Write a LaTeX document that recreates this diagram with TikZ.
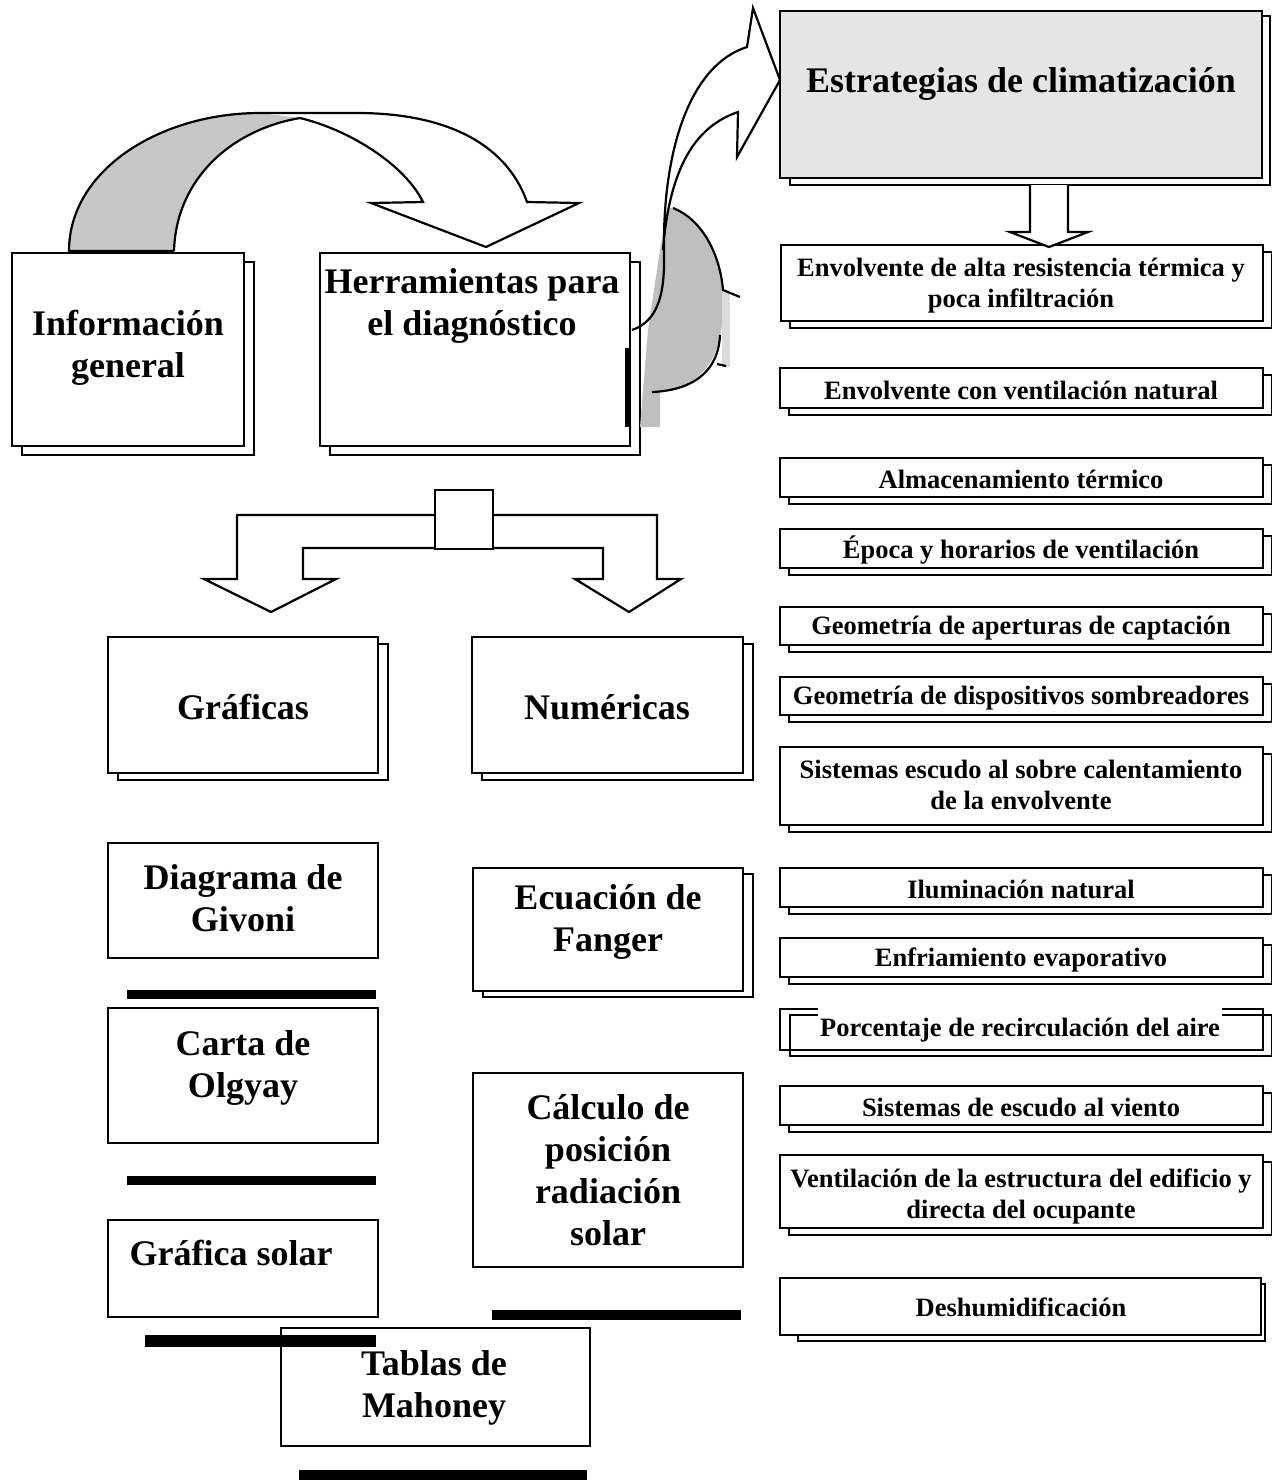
\documentclass[tikz,border=0pt]{standalone}
\usepackage{fontspec}
\setmainfont{Liberation Serif}
\usetikzlibrary{fit}
% box with a second outline offset behind it: name, x1, y1, x2, y2, dx, dy
\newcommand{\dblbox}[7]{%
  \draw[backframe] ({#2+#6},{#3+#7}) rectangle ({#4+#6},{#5+#7});
  \node[frame, fit={(#2,#3) (#4,#5)}] (#1) {};}
% plain single box: name, x1, y1, x2, y2
\newcommand{\onebox}[5]{%
  \node[frame, fit={(#2,#3) (#4,#5)}] (#1) {};}
\begin{document}
\begin{tikzpicture}[x=0.5pt,y=-0.5pt,
  frame/.style={draw=black,line width=1.2pt,fill=white,inner sep=0pt},
  backframe/.style={draw=black,line width=1.2pt,fill=white},
  bigtxt/.style={font=\bfseries\fontsize{18}{21}\selectfont,align=center,inner sep=0pt},
  listtxt/.style={font=\bfseries\fontsize{13.25}{15.5}\selectfont,align=center,inner sep=0pt},
  bar/.style={fill=black},
  blockarrow/.style={draw=black,line width=1.1pt,fill=white,line join=miter},
  curvearrow/.style={draw=black,line width=1.1pt,line join=miter}]
\useasboundingbox (0,0) rectangle (1272,1480);

% ---------- left column ----------
\dblbox{info}{12}{253}{244}{446}{10}{9}
\node[bigtxt] (info-t) at (128,348) {Información\\general};

\dblbox{herr}{320}{253}{630}{446}{10}{9}
\node[bigtxt] (herr-t) at (472,306) {Herramientas para\\el diagnóstico};

% curved arrow from the general information to the tools
\fill[black!22] (69,251) .. controls (69,170) and (160,113) .. (260,113)
  -- (300,118) .. controls (230,130) and (176,180) .. (174,251) -- cycle;
\draw[curvearrow] (174,251) -- (69,251) .. controls (69,170) and (160,113) .. (260,113)
  -- (357,113) .. controls (440,113) and (505,140) .. (527,202)
  -- (579,203) -- (486,247) -- (371,203) -- (423,202)
  .. controls (405,165) and (350,130) .. (300,118)
  .. controls (230,130) and (176,180) .. (174,251);

% curved arrow rising to the strategies
\fill[black!25] (640,427) -- (648,330) -- (660,250) -- (668,207)
  .. controls (705,220) and (724,262) .. (723,300)
  .. controls (724,345) and (712,385) .. (660,392) -- (660,427) -- cycle;
\fill[black!14] (722,293) rectangle (730,367);
\draw[curvearrow] (673,208) .. controls (703,220) and (720,255) .. (723,290) -- (740,297);
\draw[curvearrow] (720,335) .. controls (719,365) and (700,390) .. (652,392);
\draw[curvearrow] (717,364) -- (726,366);
\draw[line width=2pt] (627,348) -- (627,427);
\draw[curvearrow] (632,330) .. controls (655,322) and (665,300) .. (664,255)
  .. controls (662,150) and (690,65) .. (747,47) -- (753,8) -- (780,80)
  -- (737,157) -- (738,112) .. controls (700,125) and (670,160) .. (663,250);

% split arrow towards the two kinds of tools
\draw[blockarrow] (435,515) -- (237,515) -- (237,579) -- (204,579) -- (271,612)
  -- (336,579) -- (303,579) -- (303,548) -- (435,548);
\draw[blockarrow] (493,515) -- (657,515) -- (657,579) -- (681,579) -- (629,612)
  -- (575,579) -- (603,579) -- (603,548) -- (493,548);
\onebox{hub}{435}{490}{493}{549}

\dblbox{graf}{108}{637}{378}{773}{10}{7}
\node[bigtxt] (graf-t) at (243,707) {Gráficas};
\dblbox{num}{472}{637}{743}{773}{10}{7}
\node[bigtxt] (num-t) at (607,707) {Numéricas};

\onebox{givoni}{108}{843}{378}{958}
\node[bigtxt] (givoni-t) at (243,898) {Diagrama de\\Givoni};
\onebox{olgyay}{108}{1008}{378}{1143}
\node[bigtxt] (olgyay-t) at (243,1068) {Carta de\\Olgyay};
\onebox{solar}{108}{1220}{378}{1317}
\node[bigtxt] (solar-t) at (231,1253) {Gráfica solar};
\onebox{mahoney}{281}{1328}{590}{1446}
\node[bigtxt] (mahoney-t) at (434,1388) {Tablas de\\Mahoney};

\dblbox{fanger}{473}{868}{743}{991}{10}{6}
\node[bigtxt] (fanger-t) at (608,922) {Ecuación de\\Fanger};
\onebox{calculo}{473}{1073}{743}{1267}
\node[bigtxt] (calculo-t) at (608,1170) {Cálculo de\\posición\\radiación\\solar};

% heavy rules under the tools
\fill[bar] (127,990) rectangle (376,999);
\fill[bar] (127,1176) rectangle (376,1185);
\fill[bar] (145,1335) rectangle (376,1347);
\fill[bar] (299,1470) rectangle (587,1480);
\fill[bar] (492,1310) rectangle (741,1320);

% ---------- right column ----------
\draw[backframe] (790,16) rectangle (1270,185);
\node[frame, fill=gray!20, fit={(780,11) (1262,178)}] (estr) {};
\node[bigtxt] (estr-t) at (1021,84) {Estrategias de climatización};

\dblbox{r1}{781}{245}{1263}{321}{9}{7}
\node[listtxt] (r1-t) at (1021,286) {Envolvente de alta resistencia térmica y\\poca infiltración};
\draw[blockarrow] (1030,185) -- (1030,232) -- (1010,232) -- (1049,247)
  -- (1088,232) -- (1068,232) -- (1068,185);

\dblbox{r2}{780}{368}{1263}{408}{9}{7}
\node[listtxt] (r2-t) at (1021,390) {Envolvente con ventilación natural};
\dblbox{r3}{780}{458}{1263}{497}{9}{7}
\node[listtxt] (r3-t) at (1021,479) {Almacenamiento térmico};
\dblbox{r4}{780}{529}{1263}{568}{9}{7}
\node[listtxt] (r4-t) at (1021,550) {Época y horarios de ventilación};
\dblbox{r5}{780}{607}{1263}{645}{9}{7}
\node[listtxt] (r5-t) at (1021,628) {Geometría de aperturas de captación};
\dblbox{r6}{780}{677}{1263}{715}{9}{7}
\node[listtxt] (r6-t) at (1021,698) {Geometría de dispositivos sombreadores};
\dblbox{r7}{780}{747}{1263}{825}{9}{7}
\node[listtxt] (r7-t) at (1021,785) {Sistemas escudo al sobre calentamiento\\de la envolvente};
\dblbox{r8}{780}{868}{1263}{907}{9}{7}
\node[listtxt] (r8-t) at (1021,889) {Iluminación natural};
\dblbox{r9}{780}{938}{1263}{977}{9}{7}
\node[listtxt] (r9-t) at (1021,960) {Enfriamiento evaporativo};

% this one has its back outline lying over the front one
\node[frame, fill=none, fit={(780,1009) (1263,1050)}] (r10) {};
\draw[line width=1.2pt] (790,1015) rectangle (1272,1056);
\fill[white] (818,1004) rectangle (1222,1046);
\node[listtxt] (r10-t) at (1020,1030) {Porcentaje de recirculación del aire};

\dblbox{r11}{780}{1086}{1263}{1125}{9}{7}
\node[listtxt] (r11-t) at (1021,1107) {Sistemas de escudo al viento};
\dblbox{r12}{780}{1155}{1263}{1228}{9}{7}
\node[listtxt] (r12-t) at (1021,1196) {Ventilación de la estructura del edificio y\\directa del ocupante};

\draw[backframe] (798,1284) rectangle (1265,1341);
\node[frame, fit={(780,1278) (1261,1335)}] (r13) {};
\node[listtxt] (r13-t) at (1021,1307) {Deshumidificación};
\end{tikzpicture}
\end{document}
